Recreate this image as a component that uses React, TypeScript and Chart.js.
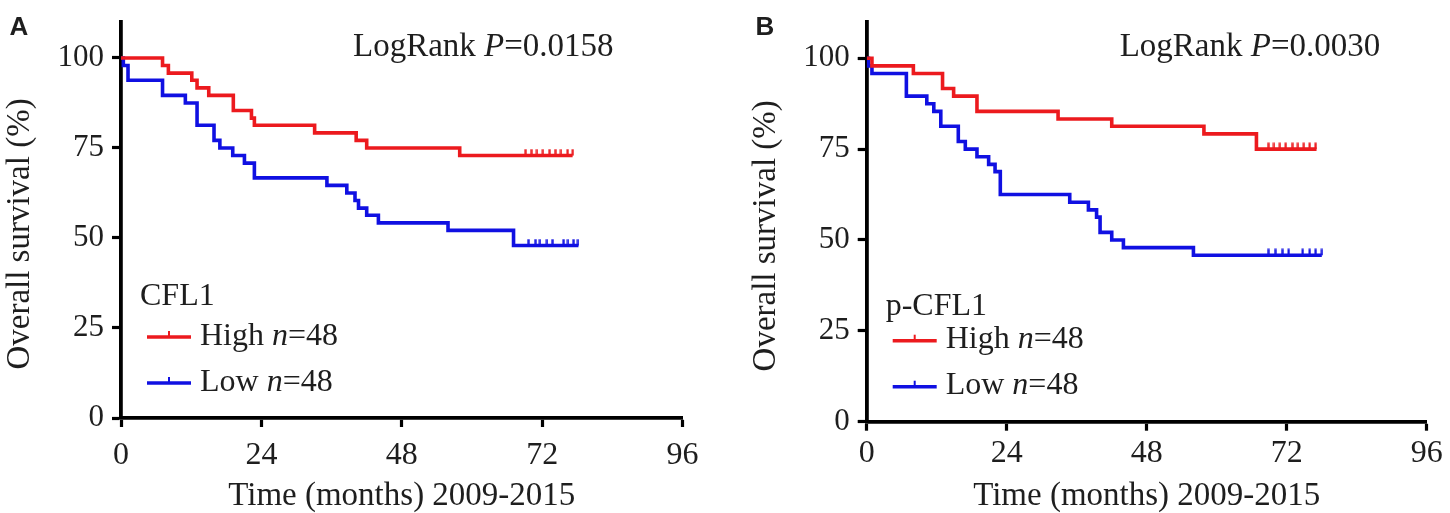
import React, { useEffect, useRef } from 'react';
import { Chart, registerables } from 'chart.js';

Chart.register(...registerables);

// axis ticks
const monthTicks = [0, 24, 48, 72, 96];
const survivalTicks = [0, 25, 50, 75, 100];

// panel A: CFL1
const cflHighMonths = [0, 7.1, 8.1, 12.1, 13.0, 15.0, 19.2, 22.3, 22.8, 33.1, 40.2, 42.0, 57.9, 77.2];
const cflHighSurvival = [100, 97.9, 95.8, 93.8, 91.7, 89.6, 85.4, 83.3, 81.3, 79.2, 77.1, 75.0, 72.9, 72.9];
const cflHighCensored = [69.1, 70.1, 71.1, 72.1, 73.2, 74.2, 75.2, 76.3, 77.2];

const cflLowMonths = [0, 0.4, 1.2, 7.1, 11.0, 13.0, 15.9, 16.9, 19.1, 21.1, 22.8, 35.2, 38.6, 40.0, 40.6, 42.0, 44.0, 55.9, 67.1, 78.2];
const cflLowSurvival = [100, 97.9, 93.8, 89.6, 87.5, 81.3, 77.1, 75.0, 72.9, 70.8, 66.7, 64.6, 62.5, 60.4, 58.3, 56.3, 54.2, 52.1, 47.9, 47.9];
const cflLowCensored = [69.6, 70.8, 71.6, 72.8, 73.7, 75.6, 76.4, 77.3, 78.1];

// panel B: p-CFL1
const pcflHighMonths = [0, 0.9, 8.0, 13.0, 14.9, 18.9, 32.8, 42.0, 57.8, 66.8, 77.1];
const pcflHighSurvival = [100, 97.9, 95.8, 91.7, 89.6, 85.4, 83.3, 81.3, 79.2, 75.0, 75.0];
const pcflHighCensored = [68.8, 69.8, 70.8, 71.8, 72.9, 73.9, 74.9, 75.9, 76.9];

const pcflLowMonths = [0, 0.3, 0.9, 6.8, 10.3, 11.5, 12.7, 15.7, 16.9, 18.9, 20.9, 22.0, 22.9, 34.8, 38.0, 39.4, 40.0, 42.0, 44.0, 56.0, 78.0];
const pcflLowSurvival = [100, 97.9, 95.8, 89.6, 87.5, 85.4, 81.3, 77.1, 75.0, 72.9, 70.8, 68.8, 62.5, 60.4, 58.3, 56.3, 52.1, 50.0, 47.9, 45.8, 45.8];
const pcflLowCensored = [68.8, 70.0, 71.2, 72.3, 74.7, 75.9, 76.9, 78.0];

const RED = 'rgb(236,26,30)';
const BLUE = 'rgb(16,16,226)';
const INK = '#1e1e1e';
const SERIF = '"Liberation Serif", "Times New Roman", serif';

interface Series {
    label: string;
    n: number;
    color: string;
    months: number[];
    survival: number[];
    censored: number[];
}

interface PanelSpec {
    letter: string;
    marker: string;
    pValue: string;
    high: Series;
    low: Series;
    left: number;
    width: number;
    area: { left: number; right: number; top: number; bottom: number };
    xTickPad: number;
    pX: number;
    legendTitleUp: number;
}

const panels: PanelSpec[] = [
    {
        letter: 'A',
        marker: 'CFL1',
        pValue: '0.0158',
        high: { label: 'High', n: 48, color: RED, months: cflHighMonths, survival: cflHighSurvival, censored: cflHighCensored },
        low: { label: 'Low', n: 48, color: BLUE, months: cflLowMonths, survival: cflLowSurvival, censored: cflLowCensored },
        left: 0,
        width: 730,
        area: { left: 121, right: 682.6, top: 14.3, bottom: 418 },
        xTickPad: 9,
        pX: 232,
        legendTitleUp: 113,
    },
    {
        letter: 'B',
        marker: 'p-CFL1',
        pValue: '0.0030',
        high: { label: 'High', n: 48, color: RED, months: pcflHighMonths, survival: pcflHighSurvival, censored: pcflHighCensored },
        low: { label: 'Low', n: 48, color: BLUE, months: pcflLowMonths, survival: pcflLowSurvival, censored: pcflLowCensored },
        left: 746,
        width: 704,
        area: { left: 120.7, right: 680.8, top: 18.3, bottom: 421.7 },
        xTickPad: 4,
        pX: 253,
        legendTitleUp: 107,
    },
];

const survivalAt = (s: Series, t: number) => {
    let v = s.survival[0];
    s.months.forEach((m, i) => {
        if (m <= t) v = s.survival[i];
    });
    return v;
};

// small upward tick used for censored patients
const censorMark = (color: string) => {
    const c = document.createElement('canvas');
    c.width = 3;
    c.height = 14;
    const g = c.getContext('2d');
    if (g) {
        g.fillStyle = color;
        g.fillRect(0.5, 0.5, 2.2, 6.5);
    }
    return c;
};

// draw a run of text pieces, some italic
const drawRuns = (ctx: CanvasRenderingContext2D, x: number, y: number, size: number, runs: [string, boolean][]) => {
    let cx = x;
    runs.forEach(([text, italic]) => {
        ctx.font = `${italic ? 'italic ' : ''}${size}px ${SERIF}`;
        ctx.fillText(text, cx, y);
        cx += ctx.measureText(text).width;
    });
};

const Panel: React.FC<{ spec: PanelSpec }> = ({ spec }) => {
    const chartContainer = useRef<HTMLCanvasElement>(null);

    useEffect(() => {
        if (!chartContainer.current) return;
        const ctx = chartContainer.current.getContext('2d');
        if (!ctx) return;

        const { area } = spec;
        const H = 513;

        const annotations = {
            id: 'kmText',
            afterDraw(chart: Chart) {
                const c = chart.ctx;
                const a = chart.chartArea;
                c.save();
                c.fillStyle = INK;
                c.textBaseline = 'alphabetic';
                c.textAlign = 'left';

                // panel letter
                c.font = 'bold 26px "Liberation Sans", Arial, sans-serif';
                c.fillText(spec.letter, 9.5, 35);

                // y axis title, sits a little below the middle of the axis
                c.save();
                c.translate(20, (a.top + a.bottom) / 2 + 14);
                c.rotate(-Math.PI / 2);
                c.textAlign = 'center';
                c.textBaseline = 'middle';
                c.font = `33px ${SERIF}`;
                c.fillText('Overall survival (%)', 0, 0);
                c.restore();

                // log-rank p value
                drawRuns(c, a.left + spec.pX, 56, 33, [['LogRank ', false], ['P', true], ['=' + spec.pValue, false]]);

                // legend
                c.font = `32px ${SERIF}`;
                c.fillText(spec.marker, a.left + 19, a.bottom - spec.legendTitleUp);
                [spec.high, spec.low].forEach((s, i) => {
                    const y = a.bottom - (i === 0 ? 81 : 35);
                    c.strokeStyle = s.color;
                    c.lineWidth = 3.5;
                    c.beginPath();
                    c.moveTo(a.left + 26, y);
                    c.lineTo(a.left + 70, y);
                    c.stroke();
                    c.lineWidth = 2;
                    c.beginPath();
                    c.moveTo(a.left + 48, y);
                    c.lineTo(a.left + 48, y - 6);
                    c.stroke();
                    c.fillStyle = INK;
                    drawRuns(c, a.left + 79, y + 7.5, 32, [[s.label + ' ', false], ['n', true], ['=' + s.n, false]]);
                });
                c.restore();
            },
        };

        const curve = (s: Series) => ({
            label: s.label,
            data: s.months.map((m, i) => ({ x: m, y: s.survival[i] })),
            borderColor: s.color,
            borderWidth: 3.6,
            stepped: 'before' as const,
            pointRadius: 0,
            fill: false,
        });

        const censors = (s: Series) => ({
            label: s.label + ' censored',
            data: s.censored.map((m) => ({ x: m, y: survivalAt(s, m) })),
            showLine: false,
            pointStyle: censorMark(s.color),
            pointRadius: 3,
            borderColor: s.color,
            backgroundColor: s.color,
        });

        const chart = new Chart(ctx, {
            type: 'line',
            data: {
                datasets: [curve(spec.high), censors(spec.high), curve(spec.low), censors(spec.low)] as any,
            },
            options: {
                animation: false,
                responsive: true,
                maintainAspectRatio: false,
                layout: {
                    padding: { left: 0, right: spec.width - area.right, top: area.top, bottom: 0 },
                },
                plugins: {
                    legend: { display: false },
                    tooltip: { enabled: false },
                },
                scales: {
                    x: {
                        type: 'linear',
                        min: 0,
                        max: 96,
                        afterBuildTicks: (scale: any) => {
                            scale.ticks = monthTicks.map((v) => ({ value: v }));
                        },
                        afterFit: (scale: any) => {
                            scale.height = H - area.bottom;
                        },
                        border: { display: true, color: '#000', width: 3.8 },
                        grid: { display: true, drawOnChartArea: false, drawTicks: true, tickLength: 9, tickWidth: 3.2, tickColor: '#000' },
                        ticks: { color: INK, padding: spec.xTickPad, font: { family: SERIF, size: 32 }, maxRotation: 0 },
                        title: {
                            display: true,
                            text: 'Time (months) 2009-2015',
                            color: INK,
                            font: { family: SERIF, size: 33, lineHeight: 1 },
                            padding: { top: 0, bottom: 0 },
                        },
                    },
                    y: {
                        type: 'linear',
                        min: 0,
                        max: 110,
                        afterBuildTicks: (scale: any) => {
                            scale.ticks = survivalTicks.map((v) => ({ value: v }));
                        },
                        afterFit: (scale: any) => {
                            scale.width = area.left;
                        },
                        border: { display: true, color: '#000', width: 3.8 },
                        grid: { display: true, drawOnChartArea: false, drawTicks: true, tickLength: 9, tickWidth: 3.2, tickColor: '#000' },
                        ticks: { color: INK, padding: 8, font: { family: SERIF, size: 31, lineHeight: 0.9 } },
                        title: { display: false },
                    },
                },
            },
            plugins: [annotations],
        });

        return () => {
            chart.destroy();
        };
    }, [spec]);

    return (
        <div style={{ position: 'absolute', left: spec.left, top: 0, width: spec.width, height: 513 }}>
            <canvas ref={chartContainer}></canvas>
        </div>
    );
};

const App: React.FC = () => {
    return (
        <div style={{ position: 'absolute', left: 0, top: 0, width: 1450, height: 513, background: '#fff', overflow: 'hidden' }}>
            {panels.map((p) => (
                <Panel key={p.letter} spec={p} />
            ))}
        </div>
    );
};

export default App;
